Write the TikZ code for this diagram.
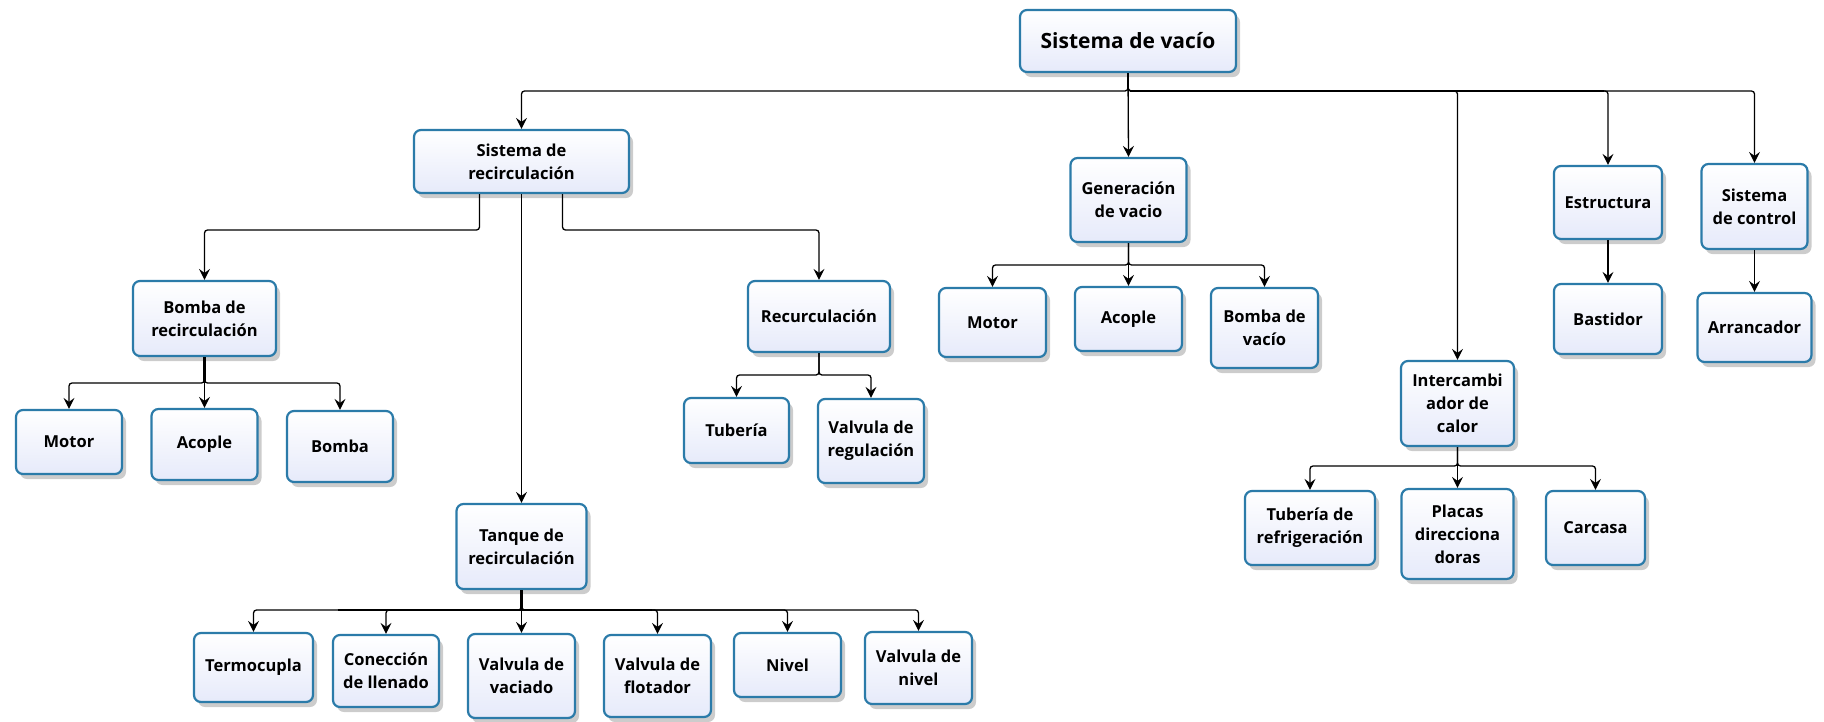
\documentclass[tikz,border=0pt]{standalone}
\usepackage{fontspec}
\setmainfont{Open Sans}
\usetikzlibrary{arrows.meta,shadows}
\definecolor{boxblue}{HTML}{2B7BA9}
\definecolor{boxfill}{HTML}{E6EAFA}
\tikzset{
  box/.style={draw=boxblue, line width=2.2pt, rounded corners=7pt,
    top color=white, bottom color=boxfill, align=center, inner sep=0pt,
    font=\bfseries\fontsize{16.5}{23}\selectfont,
    drop shadow={shadow xshift=4pt, shadow yshift=-5pt, fill=black, opacity=0.2}},
  conn/.style={draw=black, line width=1.3pt, rounded corners=3pt,
    -{Stealth[length=11pt,width=11pt,inset=4pt]}},
  heavy/.style={draw=black, line width=2.6pt},
}
\newcommand{\bx}[6]{\node[box, minimum width=#4pt, minimum height=#5pt] (#1) at (#2,#3) {#6};}
\begin{document}
\begin{tikzpicture}[x=1pt,y=-1pt]
\useasboundingbox (0,0) rectangle (1824,721);
% nodes
\node[box, minimum width=216pt, minimum height=62pt, font=\bfseries\fontsize{21}{26}\selectfont] (root) at (1128,41) {Sistema de vacío};
\bx{sdr}{521.5}{161.5}{215}{63}{Sistema de\\recirculación}
\bx{bdr}{204.5}{318.5}{143}{75}{Bomba de\\recirculación}
\bx{motora}{69}{442}{106}{64}{Motor}
\bx{acoplea}{204.5}{444.5}{106}{71}{Acople}
\bx{bombaa}{340}{446.5}{106}{71}{Bomba}
\bx{tanque}{521.5}{546.5}{130}{85}{Tanque de\\recirculación}
\bx{termo}{253.5}{667.5}{119}{69}{Termocupla}
\bx{conec}{386}{671}{106}{72}{Conección\\de llenado}
\bx{vaciado}{521.5}{676}{107}{84}{Valvula de\\vaciado}
\bx{flotador}{657.5}{676}{107}{82}{Valvula de\\flotador}
\bx{nivel}{787.5}{665}{107}{64}{Nivel}
\bx{vnivel}{918.5}{668}{107}{72}{Valvula de\\nivel}
\bx{recur}{819}{316.5}{142}{71}{Recurculación}
\bx{tuberia}{736.5}{430.5}{105}{65}{Tubería}
\bx{vreg}{871}{441}{106}{84}{Valvula de\\regulación}
\bx{gen}{1128.5}{200}{116}{84}{Generación\\de vacio}
\bx{motorb}{992.5}{322.5}{107}{69}{Motor}
\bx{acopleb}{1128.5}{319}{107}{64}{Acople}
\bx{bvacio}{1264.5}{328}{107}{80}{Bomba de\\vacío}
\bx{inter}{1457.5}{403.5}{113}{85}{Intercambi\\ador de\\calor}
\bx{tref}{1310}{528}{130}{74}{Tubería de\\refrigeración}
\bx{placas}{1457.5}{534}{112}{90}{Placas\\direcciona\\doras}
\bx{carcasa}{1595.5}{528}{99}{74}{Carcasa}
\bx{estr}{1608}{202.5}{108}{73}{Estructura}
\bx{bast}{1608}{319}{108}{70}{Bastidor}
\bx{sctrl}{1754.5}{206.5}{106}{85}{Sistema\\de control}
\bx{arr}{1754.5}{327.5}{114}{69}{Arrancador}
% bus levels
\coordinate (rb) at (0,91);
\coordinate (sb) at (0,230);
\coordinate (bb) at (0,383);
\coordinate (tb) at (0,610);
\coordinate (cb) at (0,375);
\coordinate (gb) at (0,265);
\coordinate (ib) at (0,466);
% heavier overlapping segments
\draw[heavy] ([xshift=2pt]root.south |- rb) -- ([xshift=-4pt]estr.north |- rb);
\draw[heavy] (bdr.south) -- (bdr.south |- bb);
\draw[heavy] (tanque.south) -- (tanque.south |- tb);
\draw[heavy] ([xshift=84pt]termo.north |- tb) -- ([xshift=-6pt]flotador.north |- tb);
% connectors
\foreach \c in {sdr,inter,estr,sctrl}
  \draw[conn] (root.south) -- (root.south |- rb) -| (\c.north);
\draw[conn] (root.south) -- (gen.north);
\draw[conn] ([xshift=-42pt]sdr.south) -- ([xshift=-42pt]sdr.south |- sb) -| (bdr.north);
\draw[conn] (sdr.south) -- (tanque.north);
\draw[conn] ([xshift=41pt]sdr.south) -- ([xshift=41pt]sdr.south |- sb) -| (recur.north);
\foreach \c in {motora,bombaa}
  \draw[conn] (bdr.south) -- (bdr.south |- bb) -| (\c.north);
\draw[conn] (bdr.south) -- (acoplea.north);
\foreach \c in {termo,conec,flotador,nivel,vnivel}
  \draw[conn] (tanque.south) -- (tanque.south |- tb) -| (\c.north);
\draw[conn] (tanque.south) -- (vaciado.north);
\foreach \c in {tuberia,vreg}
  \draw[conn] (recur.south) -- (recur.south |- cb) -| (\c.north);
\foreach \c in {motorb,bvacio}
  \draw[conn] (gen.south) -- (gen.south |- gb) -| (\c.north);
\draw[conn] (gen.south) -- (acopleb.north);
\foreach \c in {tref,carcasa}
  \draw[conn] (inter.south) -- (inter.south |- ib) -| (\c.north);
\draw[conn] (inter.south) -- (placas.north);
\draw[conn] (estr.south) -- (bast.north);
\draw[conn] (sctrl.south) -- (arr.north);
\end{tikzpicture}
\end{document}
